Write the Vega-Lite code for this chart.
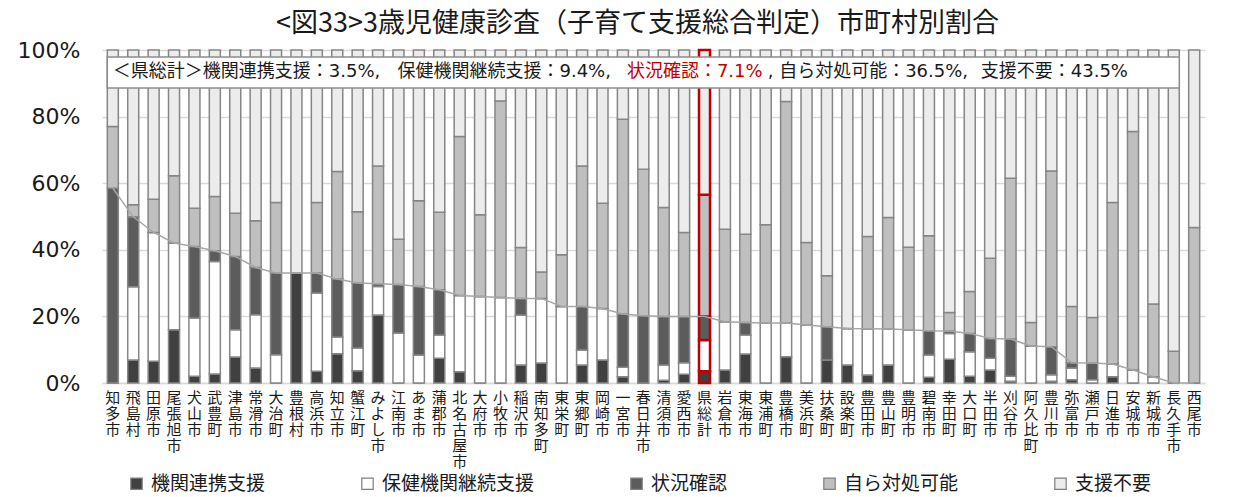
{
  "$schema": "https://vega.github.io/schema/vega-lite/v6.json",
  "width": 1103,
  "height": 333,
  "autosize": "none",
  "padding": {"left": 102, "top": 50, "right": 37, "bottom": 114},
  "background": "white",
  "config": {"font": "Noto Sans CJK JP", "view": {"stroke": null}},
  "title": {"text": "<図33>3歳児健康診査（子育て支援総合判定）市町村別割合", "fontSize": 27, "font": "Noto Sans CJK JP", "fontWeight": "normal", "color": "#1a1a1a", "anchor": "middle", "offset": 1, "dx": -16},
  "data": {"values": [
    {"市町村": "知多市", "機関連携支援": 0, "保健機関継続支援": 0, "状況確認": 58.5, "自ら対処可能": 18.5, "支援不要": 23.0},
    {"市町村": "飛島村", "機関連携支援": 6.9, "保健機関継続支援": 22.0, "状況確認": 21.0, "自ら対処可能": 3.6, "支援不要": 46.5},
    {"市町村": "田原市", "機関連携支援": 6.5, "保健機関継続支援": 38.7, "状況確認": 0, "自ら対処可能": 10.0, "支援不要": 44.8},
    {"市町村": "尾張旭市", "機関連携支援": 16.0, "保健機関継続支援": 26.0, "状況確認": 0, "自ら対処可能": 20.2, "支援不要": 37.8},
    {"市町村": "犬山市", "機関連携支援": 2.0, "保健機関継続支援": 17.5, "状況確認": 21.5, "自ら対処可能": 11.5, "支援不要": 47.5},
    {"市町村": "武豊町", "機関連携支援": 2.7, "保健機関継続支援": 33.8, "状況確認": 3.2, "自ら対処可能": 16.3, "支援不要": 44.0},
    {"市町村": "津島市", "機関連携支援": 7.8, "保健機関継続支援": 8.2, "状況確認": 22.0, "自ら対処可能": 13.0, "支援不要": 49.0},
    {"市町村": "常滑市", "機関連携支援": 4.5, "保健機関継続支援": 16.0, "状況確認": 14.2, "自ら対処可能": 14.0, "支援不要": 51.3},
    {"市町村": "大治町", "機関連携支援": 0, "保健機関継続支援": 8.5, "状況確認": 24.5, "自ら対処可能": 21.2, "支援不要": 45.8},
    {"市町村": "豊根村", "機関連携支援": 33.0, "保健機関継続支援": 0, "状況確認": 0, "自ら対処可能": 0, "支援不要": 67.0},
    {"市町村": "高浜市", "機関連携支援": 3.5, "保健機関継続支援": 23.5, "状況確認": 6.0, "自ら対処可能": 21.2, "支援不要": 45.8},
    {"市町村": "知立市", "機関連携支援": 8.8, "保健機関継続支援": 5.0, "状況確認": 17.4, "自ら対処可能": 32.3, "支援不要": 36.5},
    {"市町村": "蟹江町", "機関連携支援": 3.7, "保健機関継続支援": 6.8, "状況確認": 19.5, "自ら対処可能": 21.4, "支援不要": 48.6},
    {"市町村": "みよし市", "機関連携支援": 20.4, "保健機関継続支援": 8.6, "状況確認": 0.8, "自ら対処可能": 35.4, "支援不要": 34.8},
    {"市町村": "江南市", "機関連携支援": 0, "保健機関継続支援": 15.0, "状況確認": 14.6, "自ら対処可能": 13.6, "支援不要": 56.8},
    {"市町村": "あま市", "機関連携支援": 0, "保健機関継続支援": 8.4, "状況確認": 20.6, "自ら対処可能": 25.7, "支援不要": 45.3},
    {"市町村": "蒲郡市", "機関連携支援": 7.4, "保健機関継続支援": 7.0, "状況確認": 13.6, "自ら対処可能": 23.3, "支援不要": 48.7},
    {"市町村": "北名古屋市", "機関連携支援": 3.4, "保健機関継続支援": 22.9, "状況確認": 0, "自ら対処可能": 47.7, "支援不要": 26.0},
    {"市町村": "大府市", "機関連携支援": 0, "保健機関継続支援": 26.0, "状況確認": 0, "自ら対処可能": 24.5, "支援不要": 49.5},
    {"市町村": "小牧市", "機関連携支援": 0, "保健機関継続支援": 25.7, "状況確認": 0, "自ら対処可能": 59.0, "支援不要": 15.3},
    {"市町村": "稲沢市", "機関連携支援": 5.4, "保健機関継続支援": 15.0, "状況確認": 5.0, "自ら対処可能": 15.3, "支援不要": 59.3},
    {"市町村": "南知多町", "機関連携支援": 6.0, "保健機関継続支援": 19.4, "状況確認": 0, "自ら対処可能": 7.9, "支援不要": 66.7},
    {"市町村": "東栄町", "機関連携支援": 0, "保健機関継続支援": 23.0, "状況確認": 0, "自ら対処可能": 15.5, "支援不要": 61.5},
    {"市町村": "東郷町", "機関連携支援": 5.4, "保健機関継続支援": 4.5, "状況確認": 13.1, "自ら対処可能": 42.2, "支援不要": 34.8},
    {"市町村": "岡崎市", "機関連携支援": 6.9, "保健機関継続支援": 15.5, "状況確認": 0, "自ら対処可能": 31.6, "支援不要": 46.0},
    {"市町村": "一宮市", "機関連携支援": 1.9, "保健機関継続支援": 2.8, "状況確認": 16.0, "自ら対処可能": 58.5, "支援不要": 20.8},
    {"市町村": "春日井市", "機関連携支援": 0, "保健機関継続支援": 0, "状況確認": 20.2, "自ら対処可能": 44.0, "支援不要": 35.8},
    {"市町村": "清須市", "機関連携支援": 0.8, "保健機関継続支援": 4.6, "状況確認": 14.6, "自ら対処可能": 32.7, "支援不要": 47.3},
    {"市町村": "愛西市", "機関連携支援": 2.6, "保健機関継続支援": 3.5, "状況確認": 13.9, "自ら対処可能": 25.2, "支援不要": 54.8},
    {"市町村": "県総計", "機関連携支援": 3.5, "保健機関継続支援": 9.4, "状況確認": 7.1, "自ら対処可能": 36.5, "支援不要": 43.5},
    {"市町村": "岩倉市", "機関連携支援": 3.9, "保健機関継続支援": 14.5, "状況確認": 0, "自ら対処可能": 27.8, "支援不要": 53.8},
    {"市町村": "東海市", "機関連携支援": 8.7, "保健機関継続支援": 5.7, "状況確認": 3.8, "自ら対処可能": 26.5, "支援不要": 55.3},
    {"市町村": "東浦町", "機関連携支援": 0, "保健機関継続支援": 18.0, "状況確認": 0, "自ら対処可能": 29.5, "支援不要": 52.5},
    {"市町村": "豊橋市", "機関連携支援": 7.9, "保健機関継続支援": 10.1, "状況確認": 0, "自ら対処可能": 66.5, "支援不要": 15.5},
    {"市町村": "美浜町", "機関連携支援": 0, "保健機関継続支援": 17.4, "状況確認": 0, "自ら対処可能": 24.8, "支援不要": 57.8},
    {"市町村": "扶桑町", "機関連携支援": 6.9, "保健機関継続支援": 0, "状況確認": 10.0, "自ら対処可能": 15.3, "支援不要": 67.8},
    {"市町村": "設楽町", "機関連携支援": 5.4, "保健機関継続支援": 11.0, "状況確認": 0, "自ら対処可能": 0, "支援不要": 83.6},
    {"市町村": "豊田市", "機関連携支援": 2.4, "保健機関継続支援": 13.9, "状況確認": 0, "自ら対処可能": 27.7, "支援不要": 56.0},
    {"市町村": "豊山町", "機関連携支援": 5.4, "保健機関継続支援": 10.8, "状況確認": 0, "自ら対処可能": 33.5, "支援不要": 50.3},
    {"市町村": "豊明市", "機関連携支援": 0, "保健機関継続支援": 16.0, "状況確認": 0, "自ら対処可能": 24.8, "支援不要": 59.2},
    {"市町村": "碧南市", "機関連携支援": 1.7, "保健機関継続支援": 6.7, "状況確認": 7.3, "自ら対処可能": 28.5, "支援不要": 55.8},
    {"市町村": "幸田町", "機関連携支援": 7.1, "保健機関継続支援": 7.8, "状況確認": 0.7, "自ら対処可能": 5.6, "支援不要": 78.8},
    {"市町村": "大口町", "機関連携支援": 2.0, "保健機関継続支援": 7.4, "状況確認": 5.5, "自ら対処可能": 12.6, "支援不要": 72.5},
    {"市町村": "半田市", "機関連携支援": 3.9, "保健機関継続支援": 3.5, "状況確認": 6.0, "自ら対処可能": 24.1, "支援不要": 62.5},
    {"市町村": "刈谷市", "機関連携支援": 0.5, "保健機関継続支援": 1.5, "状況確認": 11.2, "自ら対処可能": 48.3, "支援不要": 38.5},
    {"市町村": "阿久比町", "機関連携支援": 0, "保健機関継続支援": 11.1, "状況確認": 0, "自ら対処可能": 7.1, "支援不要": 81.8},
    {"市町村": "豊川市", "機関連携支援": 0.5, "保健機関継続支援": 2.0, "状況確認": 8.4, "自ら対処可能": 52.8, "支援不要": 36.3},
    {"市町村": "弥富市", "機関連携支援": 1.0, "保健機関継続支援": 3.5, "状況確認": 1.6, "自ら対処可能": 16.9, "支援不要": 77.0},
    {"市町村": "瀬戸市", "機関連携支援": 0, "保健機関継続支援": 1.0, "状況確認": 5.0, "自ら対処可能": 13.7, "支援不要": 80.3},
    {"市町村": "日進市", "機関連携支援": 1.9, "保健機関継続支援": 3.8, "状況確認": 0, "自ら対処可能": 48.5, "支援不要": 45.8},
    {"市町村": "安城市", "機関連携支援": 0, "保健機関継続支援": 3.9, "状況確認": 0, "自ら対処可能": 71.6, "支援不要": 24.5},
    {"市町村": "新城市", "機関連携支援": 0, "保健機関継続支援": 1.9, "状況確認": 0, "自ら対処可能": 21.8, "支援不要": 76.3},
    {"市町村": "長久手市", "機関連携支援": 0, "保健機関継続支援": 0, "状況確認": 0, "自ら対処可能": 9.5, "支援不要": 90.5},
    {"市町村": "西尾市", "機関連携支援": 0, "保健機関継続支援": 0, "状況確認": 0, "自ら対処可能": 46.7, "支援不要": 53.3}
  ]},
  "layer": [
    {
      "transform": [
        {"fold": ["機関連携支援", "保健機関継続支援", "状況確認", "自ら対処可能", "支援不要"], "as": ["区分", "割合"]},
        {"calculate": "indexof(['機関連携支援','保健機関継続支援','状況確認','自ら対処可能','支援不要'], datum['区分'])", "as": "順"}
      ],
      "mark": {"type": "bar"},
      "encoding": {
        "x": {
          "field": "市町村", "type": "nominal", "sort": null,
          "scale": {"paddingInner": 0.46, "paddingOuter": 0.26},
          "axis": {"title": null, "labelAngle": 0, "labelExpr": "split(datum.label, '')", "labelFont": "Noto Sans CJK JP", "labelFontSize": 15, "labelLineHeight": 16, "labelBaseline": "top", "labelPadding": 7, "ticks": false, "domain": true, "domainColor": "#d9d9d9", "domainWidth": 1.5, "labelColor": "#1a1a1a", "labelOverlap": false, "labelLimit": 0}
        },
        "y": {
          "field": "割合", "type": "quantitative", "stack": "zero",
          "scale": {"domain": [0, 100], "nice": false},
          "axis": {"title": null, "values": [0, 20, 40, 60, 80, 100], "labelExpr": "datum.value + '%'", "labelFont": "DejaVu Sans", "labelFontSize": 22, "labelColor": "#1a1a1a", "ticks": false, "domain": false, "labelPadding": 22, "grid": true, "gridColor": "#d9d9d9", "gridWidth": 1.5}
        },
        "color": {
          "field": "区分", "type": "nominal",
          "sort": ["機関連携支援", "保健機関継続支援", "状況確認", "自ら対処可能", "支援不要"],
          "scale": {"domain": ["機関連携支援", "保健機関継続支援", "状況確認", "自ら対処可能", "支援不要"], "range": ["#404040", "#ffffff", "#5c5c5c", "#bfbfbf", "#ececec"]},
          "legend": {"title": null, "orient": "none", "legendX": 25, "legendY": 424, "direction": "horizontal", "columns": 5, "symbolType": "square", "symbolSize": 130, "symbolStrokeColor": "#7f7f7f", "symbolStrokeWidth": 1.2, "labelFontSize": 19, "labelFont": "Noto Sans CJK JP", "labelColor": "#1a1a1a", "columnPadding": 92, "labelOffset": 5, "labelLimit": 0}
        },
        "order": {"field": "順", "type": "quantitative"},
        "stroke": {"condition": {"test": "datum['市町村'] === '県総計'", "value": "#c00000"}, "value": "#868686"},
        "strokeWidth": {"condition": {"test": "datum['市町村'] === '県総計'", "value": 2.5}, "value": 1.5}
      }
    },
    {
      "transform": [
        {"fold": ["機関連携支援", "保健機関継続支援", "状況確認"], "as": ["区分", "割合"]},
        {"aggregate": [{"op": "sum", "field": "割合", "as": "要支援計"}], "groupby": ["市町村"]}
      ],
      "mark": {"type": "line", "color": "#a6a6a6", "strokeWidth": 1.5},
      "encoding": {
        "x": {"field": "市町村", "type": "nominal", "sort": null},
        "y": {"field": "要支援計", "type": "quantitative"}
      }
    },
    {
      "data": {"values": [{}]},
      "mark": {"type": "rect", "fill": "white", "stroke": "#8c8c8c", "strokeWidth": 1.5},
      "encoding": {
        "x": {"datum": "知多市", "bandPosition": 0},
        "x2": {"datum": "長久手市", "bandPosition": 1},
        "y": {"datum": 97.9},
        "y2": {"datum": 88.6}
      }
    },
    {
      "data": {"values": [{}]},
      "mark": {"type": "text", "text": "＜県総計＞機関連携支援：3.5%,", "align": "left", "baseline": "middle", "font": "DejaVu Sans, Noto Sans CJK JP", "fontSize": 18, "fontWeight": "normal", "color": "#1a1a1a"},
      "encoding": {"x": {"datum": "知多市"}, "y": {"datum": 93.3}}
    },
    {
      "data": {"values": [{}]},
      "mark": {"type": "text", "text": "保健機関継続支援：9.4%,", "align": "left", "baseline": "middle", "font": "DejaVu Sans, Noto Sans CJK JP", "fontSize": 18, "fontWeight": "normal", "color": "#1a1a1a", "dx": -1},
      "encoding": {"x": {"datum": "江南市"}, "y": {"datum": 93.3}}
    },
    {
      "data": {"values": [{}]},
      "mark": {"type": "text", "text": "状況確認：7.1%", "align": "left", "baseline": "middle", "font": "DejaVu Sans, Noto Sans CJK JP", "fontSize": 18, "fontWeight": "normal", "color": "#c00000", "dx": 4},
      "encoding": {"x": {"datum": "一宮市"}, "y": {"datum": 93.3}}
    },
    {
      "data": {"values": [{}]},
      "mark": {"type": "text", "text": ", 自ら対処可能：36.5%,", "align": "left", "baseline": "middle", "font": "DejaVu Sans, Noto Sans CJK JP", "fontSize": 18, "fontWeight": "normal", "color": "#1a1a1a", "dx": 2},
      "encoding": {"x": {"datum": "東浦町"}, "y": {"datum": 93.3}}
    },
    {
      "data": {"values": [{}]},
      "mark": {"type": "text", "text": "支援不要：43.5%", "align": "left", "baseline": "middle", "font": "DejaVu Sans, Noto Sans CJK JP", "fontSize": 18, "fontWeight": "normal", "color": "#1a1a1a", "dx": 11},
      "encoding": {"x": {"datum": "大口町"}, "y": {"datum": 93.3}}
    }
  ]
}
